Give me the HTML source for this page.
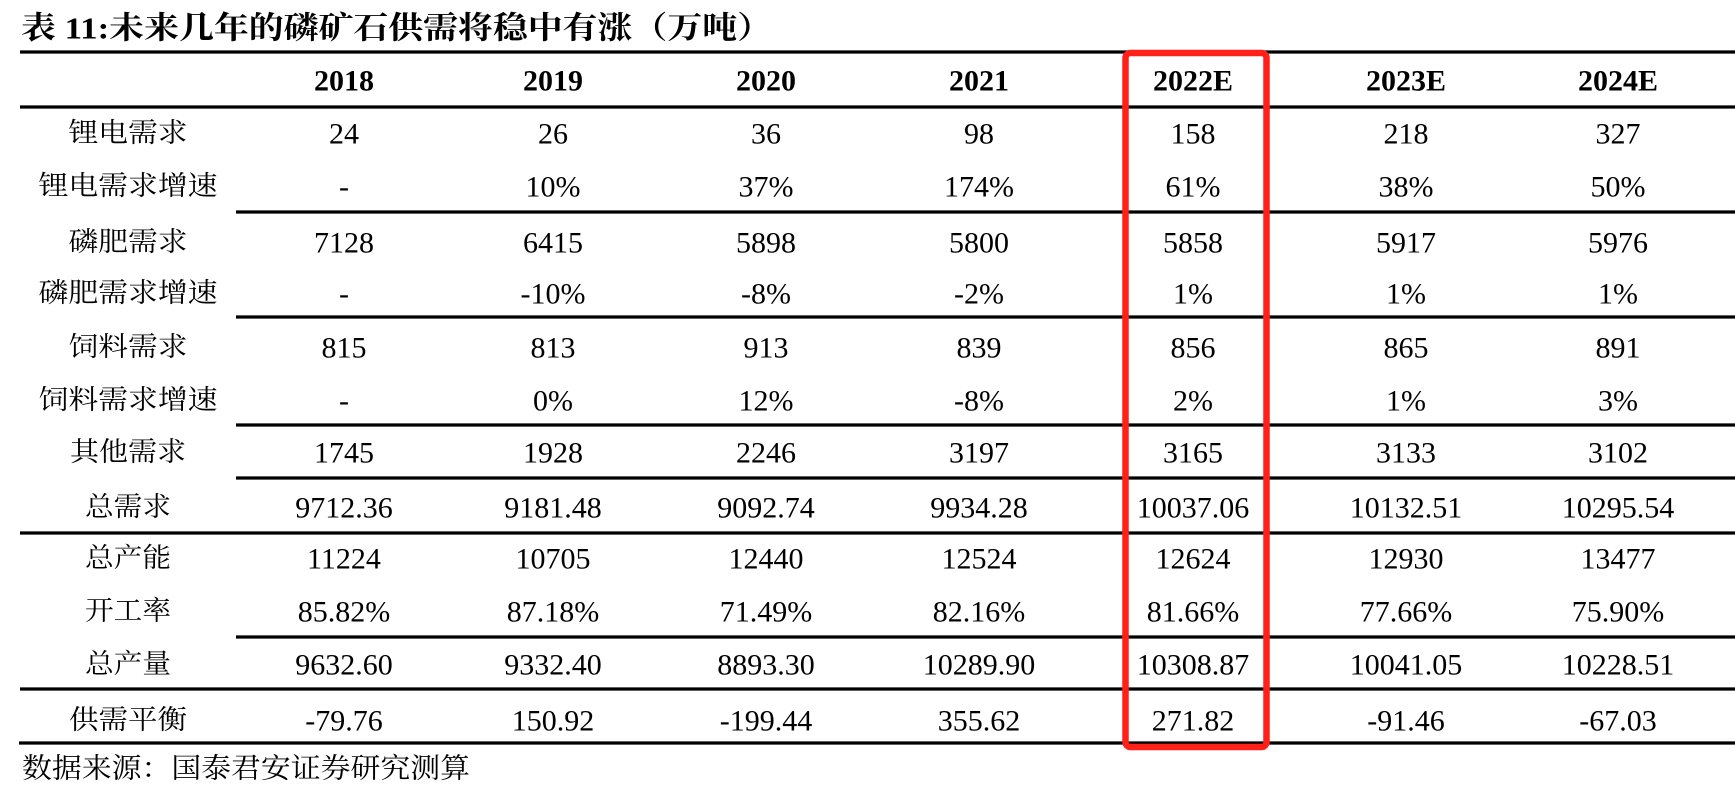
<!DOCTYPE html>
<html><head><meta charset="utf-8"><style>
html,body{margin:0;padding:0;background:#fff;width:1735px;height:798px;overflow:hidden}
svg{display:block}
.num{font-family:"Liberation Serif",serif;font-size:30px;fill:#000}
.hdr{font-family:"Liberation Serif",serif;font-size:30px;font-weight:bold;fill:#000}
.lbl{font-family:"Liberation Serif","Noto Serif CJK SC",serif;font-size:27px;fill:#000}
</style></head><body>
<svg id="tbl" width="1735" height="798" xmlns="http://www.w3.org/2000/svg">
<text x="21" y="28" dominant-baseline="central" textLength="751" lengthAdjust="spacingAndGlyphs" style="font-family:'Liberation Serif','Noto Serif CJK SC',serif;font-size:31px;font-weight:bold">表 11:未来几年的磷矿石供需将稳中有涨（万吨）</text>
<g id="lines"></g>
<g id="cells"></g>
<rect x="1125.5" y="53" width="141" height="694" rx="5" fill="none" stroke="#ff2019" stroke-width="6.5"/>
<text x="22" y="769" dominant-baseline="central" textLength="448" lengthAdjust="spacingAndGlyphs" style="font-family:'Liberation Serif','Noto Serif CJK SC',serif;font-size:28px">数据来源：国泰君安证券研究测算</text>
</svg>
<script>
const years=["2018","2019","2020","2021","2022E","2023E","2024E"];
const labels=["锂电需求","锂电需求增速","磷肥需求","磷肥需求增速","饲料需求","饲料需求增速","其他需求","总需求","总产能","开工率","总产量","供需平衡"];
const rowLithium=["24","26","36","98","158","218","327"];
const rowLithiumG=["-","10%","37%","174%","61%","38%","50%"];
const rowPhos=["7128","6415","5898","5800","5858","5917","5976"];
const rowPhosG=["-","-10%","-8%","-2%","1%","1%","1%"];
const rowFeed=["815","813","913","839","856","865","891"];
const rowFeedG=["-","0%","12%","-8%","2%","1%","3%"];
const rowOther=["1745","1928","2246","3197","3165","3133","3102"];
const rowTotalD=["9712.36","9181.48","9092.74","9934.28","10037.06","10132.51","10295.54"];
const rowCap=["11224","10705","12440","12524","12624","12930","13477"];
const rowUtil=["85.82%","87.18%","71.49%","82.16%","81.66%","77.66%","75.90%"];
const rowProd=["9632.60","9332.40","8893.30","10289.90","10308.87","10041.05","10228.51"];
const rowBal=["-79.76","150.92","-199.44","355.62","271.82","-91.46","-67.03"];
const rows=[rowLithium,rowLithiumG,rowPhos,rowPhosG,rowFeed,rowFeedG,rowOther,rowTotalD,rowCap,rowUtil,rowProd,rowBal];
const NS="http://www.w3.org/2000/svg";
const colX=[344,553,766,979,1193,1406,1618];
const rowY=[133,186,242,293,347,400,452,507,558,611,664,720];
const lblW=[119,179,119,179,119,179,116,86,86,86,86,118];
const rules=[[20,52,1735],[20,107,1735],[236,212,1735],[236,317,1735],[236,425,1735],[236,478,1735],[20,533,1735],[236,637,1735],[20,689,1735],[19,743,1735]];
const lg=document.getElementById('lines'), cg=document.getElementById('cells');
rules.forEach(r=>{const l=document.createElementNS(NS,'line');


l.setAttribute('x1',r[0]);l.setAttribute('x2',r[2]);l.setAttribute('y1',r[1]);l.setAttribute('y2',r[1]);
l.setAttribute('stroke','#000');l.setAttribute('stroke-width','3.2');lg.appendChild(l);});
function txt(cls,x,y,s){const t=document.createElementNS(NS,'text');t.setAttribute('class',cls);
t.setAttribute('x',x);t.setAttribute('y',y);t.setAttribute('text-anchor','middle');t.setAttribute('dominant-baseline','central');t.textContent=s;cg.appendChild(t);return t;}
years.forEach((y,i)=>{const t=txt('hdr',colX[i],81,y);

});
labels.forEach((s,r)=>{const t=txt('lbl',128,rowY[r],s);
t.setAttribute('textLength',lblW[r]);t.setAttribute('lengthAdjust','spacingAndGlyphs');


rows[r].forEach((v,c)=>{const n=txt('num',colX[c],rowY[r]+1,v);

});});
</script>
</body></html>
